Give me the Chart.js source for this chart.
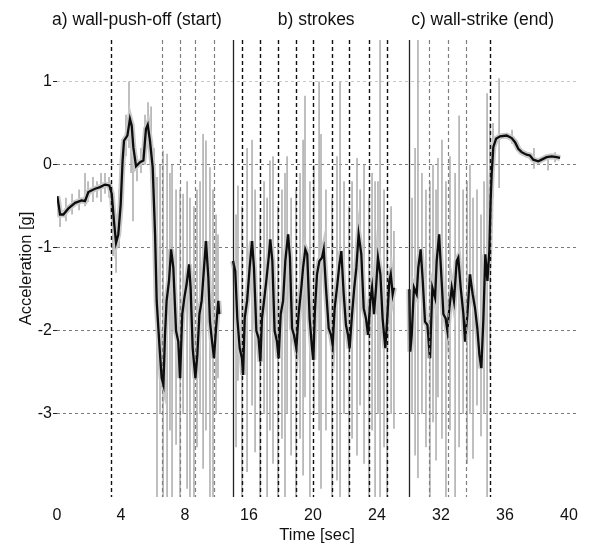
<!DOCTYPE html>
<html>
<head>
<meta charset="utf-8">
<script src="https://cdn.jsdelivr.net/npm/chart.js@4.4.1/dist/chart.umd.min.js"></script>
<style>
  body { margin: 0; background: #fff; }
</style>
</head>
<body>
<canvas id="myChart" width="590" height="544"></canvas>
<script>
// broken time axis: three recorded pieces slid together
var segStart = [0, 15, 30];   // sec, where each piece starts
var segShift = [0, 4, 8];     // sec removed before each piece
var segTitles = ["a) wall-push-off (start)", "b) strokes", "c) wall-strike (end)"];
var segTitleAt = [5, 16.2, 26.6]; // axis units

var tickPos = [0, 4, 8, 12, 16, 20, 24, 28, 32];
var tickLabels = ["0", "4", "8", "16", "20", "24", "32", "36", "40"];
var yTicks = [-3, -2, -1, 0, 1];

// event markers (sec)
var blackMarks = [3.38, 15.56, 16.69, 17.81, 18.94, 20.0, 21.19, 22.25, 23.5, 24.63, 35.06];
var greyMarks = [6.56, 7.69, 8.63, 9.81, 31.25, 32.44, 33.56];

// filtered acceleration [t, g]
var smoothA = [[0.02,-0.38],[0.19,-0.6],[0.4,-0.6],[0.7,-0.53],[1.13,-0.46],[1.54,-0.43],[1.75,-0.44],[1.96,-0.33],
  [2.38,-0.29],[2.69,-0.27],[3.0,-0.24],[3.27,-0.25],[3.42,-0.35],[3.56,-0.68],[3.69,-0.94],[3.83,-0.84],[3.98,-0.48],
  [4.1,0.05],[4.19,0.29],[4.4,0.35],[4.56,0.55],[4.67,0.47],[4.77,0.21],[4.94,-0.02],[5.19,0.03],[5.4,0.05],[5.56,0.43],
  [5.67,0.48],[5.81,0.29],[5.98,-0.03],[6.13,-0.84],[6.23,-1.64],[6.4,-2.17],[6.54,-2.57],[6.65,-2.65],[6.75,-2.05],
  [6.85,-1.64],[7.0,-1.4],[7.13,-1.02],[7.27,-1.24],[7.44,-2.0],[7.58,-2.13],[7.69,-2.57],[7.83,-1.8],[7.96,-1.6],
  [8.1,-1.44],[8.25,-1.2],[8.35,-1.48],[8.48,-2.21],[8.65,-2.57],[8.77,-2.29],[8.9,-1.8],[9.04,-1.64],[9.19,-1.24],
  [9.31,-0.92],[9.46,-1.36],[9.56,-1.89],[9.67,-2.09],[9.81,-2.33],[9.94,-1.97],[10.08,-1.64],[10.14,-1.8]];

var smoothB = [[15.0,-1.16],[15.14,-1.28],[15.27,-1.85],[15.42,-2.21],[15.56,-2.33],[15.63,-2.53],[15.73,-1.85],
  [15.88,-1.64],[16.04,-1.24],[16.19,-0.92],[16.31,-1.24],[16.46,-2.0],[16.6,-2.09],[16.71,-2.37],[16.81,-1.85],
  [16.94,-1.64],[17.08,-1.4],[17.23,-1.12],[17.33,-0.9],[17.46,-1.16],[17.6,-2.0],[17.75,-2.13],[17.85,-2.33],
  [17.98,-1.8],[18.13,-1.64],[18.27,-1.16],[18.44,-0.84],[18.56,-1.12],[18.69,-1.97],[18.81,-2.05],[18.96,-2.21],
  [19.1,-1.8],[19.27,-1.48],[19.38,-1.24],[19.52,-1.02],[19.64,-1.08],[19.79,-1.85],[19.94,-2.21],[20.02,-2.35],
  [20.12,-1.75],[20.25,-1.32],[20.4,-1.16],[20.56,-1.12],[20.67,-1.02],[20.81,-1.48],[20.98,-1.97],[21.13,-2.05],
  [21.23,-2.17],[21.35,-1.73],[21.5,-1.48],[21.65,-1.2],[21.77,-1.04],[21.92,-1.56],[22.06,-1.93],[22.19,-2.05],
  [22.29,-2.21],[22.44,-1.8],[22.58,-1.48],[22.71,-1.24],[22.85,-0.84],[23.02,-1.08],[23.17,-1.73],[23.31,-1.85],
  [23.44,-2.05],[23.58,-1.64],[23.69,-1.48],[23.81,-1.8],[23.94,-1.48],[24.06,-1.12],[24.21,-1.32],[24.35,-1.85],
  [24.52,-2.21],[24.64,-1.85],[24.77,-1.4],[24.86,-1.32],[24.98,-1.56],[25.06,-1.48]];

var smoothC = [[30.02,-1.5],[30.08,-2.25],[30.17,-2.05],[30.31,-1.48],[30.48,-1.56],[30.58,-1.24],[30.73,-1.02],
  [30.86,-1.4],[31.0,-1.89],[31.15,-1.93],[31.31,-2.33],[31.46,-1.48],[31.63,-1.6],[31.73,-1.16],[31.88,-0.84],
  [32.04,-1.4],[32.15,-1.8],[32.29,-1.85],[32.4,-2.0],[32.52,-1.73],[32.67,-1.48],[32.81,-1.64],[32.98,-1.16],
  [33.08,-1.12],[33.23,-1.48],[33.4,-1.8],[33.5,-2.13],[33.65,-1.8],[33.81,-1.32],[33.98,-1.56],[34.13,-1.73],
  [34.27,-1.97],[34.4,-2.29],[34.52,-2.45],[34.65,-1.85],[34.77,-1.08],[34.9,-1.4],[35.02,-1.04],[35.1,-0.44],
  [35.17,-0.1],[35.27,0.21],[35.44,0.31],[35.69,0.34],[36.1,0.35],[36.42,0.32],[36.63,0.27],[36.83,0.19],
  [37.04,0.15],[37.35,0.12],[37.56,0.11],[37.77,0.06],[38.08,0.04],[38.29,0.06],[38.6,0.09],[38.92,0.1],
  [39.23,0.09],[39.44,0.08]];

// raw signal peaks [t, low, high]
var rawA = [[0.19,-0.75,-0.45],[0.56,-0.68,-0.4],[0.94,-0.6,-0.35],[1.38,-0.55,-0.3],[1.75,-0.5,-0.1],
  [1.94,-0.45,-0.2],[2.25,-0.45,-0.15],[2.5,-0.4,-0.2],[2.75,-0.45,-0.1],[3.0,-0.35,-0.1],[3.25,-0.4,-0.15],
  [3.5,-1.1,-0.4],[3.69,-1.3,-0.6],[3.88,-1.0,-0.3],[4.13,-0.3,0.3],[4.31,0.1,0.6],[4.5,0.2,1.0],[4.63,-0.1,0.6],
  [4.75,-0.68,0.3],[5.0,-0.2,0.1],[5.25,-0.1,0.2],[5.5,0.0,0.6],[5.69,0.2,0.75],[5.88,-0.2,0.7],[6.06,-1.0,0.2],
  [6.25,-4.0,-0.15],[6.44,-3.0,0.0],[6.63,-4.0,0.17],[6.88,-4.0,0.13],[7.06,-3.2,-0.1],[7.19,-4.0,0.0],
  [7.44,-3.37,-0.3],[7.69,-4.0,-0.3],[7.88,-3.0,-0.35],[8.13,-3.9,-0.2],[8.31,-4.0,-0.4],[8.56,-4.0,-0.5],
  [8.75,-3.4,-0.3],[8.94,-3.0,-0.2],[9.13,-3.66,0.37],[9.31,-3.2,0.29],[9.56,-4.0,-0.03],[9.75,-4.0,-0.3],
  [9.94,-3.0,-0.6],[10.06,-2.57,-0.84]];

var rawB = [[15.19,-3.4,-0.6],[15.31,-2.6,-0.25],[15.56,-4.0,-0.5],[15.88,-3.7,0.2],[16.19,-2.9,0.3],
  [16.38,-3.46,-0.3],[16.69,-4.0,-0.6],[16.94,-3.0,-0.2],[17.13,-4.0,-0.4],[17.31,-3.2,0.05],[17.5,-3.6,0.1],
  [17.81,-4.0,-0.5],[18.06,-3.3,-0.3],[18.25,-4.0,-0.1],[18.38,-3.0,0.1],[18.63,-3.5,-0.4],[18.94,-4.0,-0.3],
  [19.19,-3.3,-0.1],[19.38,-3.74,0.3],[19.5,-2.8,0.83],[19.81,-4.0,-0.2],[20.06,-3.0,0.0],[20.38,-3.2,1.0],
  [20.5,-3.9,0.37],[20.81,-3.2,-0.3],[21.19,-4.0,-0.4],[21.5,-3.8,0.1],[21.69,-4.0,1.0],[21.94,-3.0,-0.2],
  [22.25,-4.0,-0.5],[22.44,-3.3,-0.2],[22.75,-3.5,0.08],[22.94,-2.9,-0.3],[23.19,-3.6,0.0],[23.5,-4.0,-0.4],
  [23.69,-3.2,-0.1],[23.88,-4.0,-0.2],[24.06,-3.0,-0.2],[24.19,-4.0,1.5],[24.44,-3.4,-0.3],[24.63,-4.0,-0.6],
  [24.88,-3.0,-0.5],[25.06,-3.18,-0.8]];

var rawC = [[30.19,-3.0,-0.4],[30.38,-3.5,0.2],[30.56,-3.77,1.5],[30.81,-3.0,-0.1],[31.06,-3.4,-0.3],
  [31.31,-4.0,-0.2],[31.5,-3.1,0.0],[31.69,-3.56,-0.3],[31.81,-2.8,0.08],[32.06,-3.3,0.3],[32.31,-4.0,-0.2],
  [32.56,-3.2,0.1],[32.88,-4.0,-0.1],[33.13,-3.4,0.59],[33.38,-3.0,-0.3],[33.63,-3.6,-0.2],[33.81,-3.0,0.0],
  [34.0,-3.54,-0.4],[34.25,-2.9,-0.3],[34.5,-3.27,-0.6],[34.69,-3.0,-0.2],[34.88,-4.0,0.86],[35.06,-2.5,0.5],
  [35.25,-0.4,0.5],[35.63,-0.28,1.04],[36.44,0.25,0.42],[37.81,-0.05,0.2],[38.69,-0.07,0.1],[39.13,0.03,0.15]];

// time -> position on the broken axis
function toAxis(t) {
  var k = 0;
  for (var i = 0; i < segStart.length; i++) {
    if (t >= segStart[i] - 0.5) k = i;
  }
  return t - segShift[k];
}

function curve(list) {
  return list.map(function (p) { return { x: toAxis(p[0]), y: p[1] }; });
}

function spikes(list) {
  var out = [];
  list.forEach(function (s) {
    var x = toAxis(s[0]);
    out.push({ x: x, y: s[1] }, { x: x, y: s[2] }, { x: x, y: null });
  });
  return out;
}

var font = "'Liberation Sans', Arial, sans-serif";
var datasets = [];
[smoothA, smoothB, smoothC].forEach(function (seg) {
  datasets.push({ data: curve(seg), borderColor: "#0d0d0d", borderWidth: 2.3, pointRadius: 0, tension: 0 });
});
[smoothA, smoothB, smoothC].forEach(function (seg) {
  datasets.push({ data: curve(seg), borderColor: "#c9c9c9", borderWidth: 6, pointRadius: 0, tension: 0 });
});
[rawA, rawB, rawC].forEach(function (seg) {
  datasets.push({ data: spikes(seg), borderColor: "#ababab", borderWidth: 1.5, pointRadius: 0, spanGaps: false });
});

var overlay = {
  id: "overlay",
  beforeDatasetDraw: function (chart, args) {
    if (args.index !== 0) return;
    var ctx = chart.ctx, a = chart.chartArea, xs = chart.scales.x;
    function vline(xv, color, dash, w) {
      var px = Math.round(xs.getPixelForValue(xv)) + 0.5;
      ctx.save();
      ctx.strokeStyle = color;
      ctx.lineWidth = w;
      ctx.setLineDash(dash);
      ctx.beginPath();
      ctx.moveTo(px, a.top);
      ctx.lineTo(px, a.bottom);
      ctx.stroke();
      ctx.restore();
    }
    greyMarks.forEach(function (t) { vline(toAxis(t), "#808080", [4, 3], 1.2); });
    blackMarks.forEach(function (t) { vline(toAxis(t), "#111", [4, 3], 1.4); });
    for (var i = 1; i < segStart.length; i++) {
      vline(segStart[i] - segShift[i], "#222", [], 1.3);
    }
  },
  afterDraw: function (chart) {
    var ctx = chart.ctx, xs = chart.scales.x;
    ctx.save();
    ctx.fillStyle = "#111";
    ctx.font = "17.5px " + font;
    ctx.textAlign = "center";
    ctx.textBaseline = "middle";
    segTitles.forEach(function (txt, i) {
      ctx.fillText(txt, xs.getPixelForValue(segTitleAt[i]), 20);
    });
    ctx.restore();
  }
};

new Chart(document.getElementById("myChart"), {
  type: "line",
  data: { datasets: datasets },
  plugins: [overlay],
  options: {
    responsive: false,
    animation: false,
    layout: { padding: { top: 40, right: 13, left: 0, bottom: 0 } },
    plugins: { legend: { display: false }, tooltip: { enabled: false } },
    scales: {
      x: {
        type: "linear",
        min: 0,
        max: 32.5,
        afterBuildTicks: function (s) { s.ticks = tickPos.map(function (v) { return { value: v }; }); },
        afterFit: function (s) { s.height = 47; },
        grid: { display: false, drawTicks: false },
        border: { display: false },
        ticks: {
          padding: 9,
          color: "#111",
          font: { family: font, size: 16 },
          maxRotation: 0,
          callback: function (v) { return tickLabels[tickPos.indexOf(v)]; }
        },
        title: { display: true, text: "Time [sec]", color: "#111", font: { family: font, size: 16.5 }, padding: { top: 0, bottom: -1 } }
      },
      y: {
        min: -4,
        max: 1.5,
        afterBuildTicks: function (s) { s.ticks = yTicks.map(function (v) { return { value: v }; }); },
        afterFit: function (s) { s.width = 57; },
        grid: {
          color: function (c) { return c.tick && c.tick.value === 1 ? "#c8c8c8" : "#7a7a7a"; },
          lineWidth: 1,
          tickLength: 4,
          tickColor: "#222"
        },
        border: { display: false, dash: [3, 3] },
        ticks: { padding: 1, color: "#111", font: { family: font, size: 16 } },
        title: { display: true, text: "Acceleration [g]", color: "#111", font: { family: font, size: 16.5 }, padding: { top: 17, bottom: 0 } }
      }
    }
  }
});
</script>
</body>
</html>
